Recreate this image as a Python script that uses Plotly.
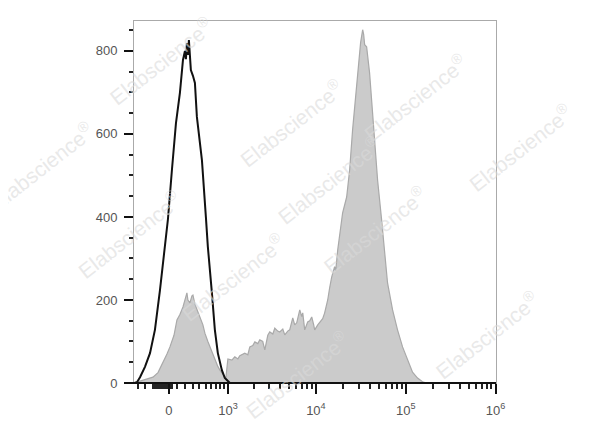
import numpy as np
import plotly.graph_objects as go

# ---- data (x in biexponential display units, y in cell counts) ----
unstained_x = [-0.389, -0.356, -0.322, -0.267, -0.211, -0.156, -0.100, -0.056, -0.011, 0.033,
               0.078, 0.122, 0.156, 0.178, 0.189, 0.200, 0.211, 0.222, 0.233, 0.244,
               0.267, 0.289, 0.311, 0.333, 0.367, 0.411, 0.433, 0.478, 0.511, 0.544,
               0.589, 0.622, 0.678, 3.633]
unstained_count = [0, 2, 14, 39, 72, 128, 224, 313, 395, 513,
                   626, 699, 778, 800, 780, 819, 790, 826, 780, 754,
                   740, 723, 641, 600, 537, 400, 328, 217, 128, 72,
                   31, 12, 0, 0]

stained_x = [-0.389, -0.289, -0.178, -0.122, -0.067, -0.022, 0.011, 0.056, 0.089, 0.122,
             0.156, 0.178, 0.200, 0.211, 0.233, 0.256, 0.267, 0.289, 0.311, 0.344,
             0.378, 0.400, 0.433, 0.456, 0.489, 0.511, 0.544, 0.567, 0.600, 0.622,
             0.633, 0.656, 0.700, 0.733, 0.767, 0.789, 0.844, 0.878, 0.900, 0.933,
             0.956, 0.989, 1.011, 1.044, 1.067, 1.100, 1.122, 1.156, 1.178, 1.211,
             1.233, 1.267, 1.289, 1.322, 1.344, 1.378, 1.400, 1.422, 1.444, 1.456,
             1.478, 1.489, 1.511, 1.533, 1.544, 1.567, 1.589, 1.611, 1.622, 1.656,
             1.678, 1.711, 1.733, 1.767, 1.789, 1.811, 1.844, 1.856, 1.878, 1.900,
             1.933, 1.978, 2.011, 2.044, 2.089, 2.122, 2.133, 2.156, 2.167, 2.178,
             2.200, 2.233, 2.256, 2.289, 2.322, 2.367, 2.400, 2.433, 2.489, 2.544,
             2.600, 2.656, 2.711, 2.767, 2.822, 2.867, 3.633]
stained_count = [0, 7, 14, 25, 48, 70, 87, 115, 152, 165,
                 183, 200, 217, 200, 193, 210, 212, 190, 176, 159,
                 140, 120, 100, 87, 70, 55, 40, 31, 20, 14,
                 12, 58, 55, 63, 58, 66, 72, 68, 87, 90,
                 99, 95, 104, 100, 80, 115, 123, 118, 132, 125,
                 123, 130, 116, 125, 128, 157, 140, 145, 165, 176,
                 160, 169, 128, 140, 147, 150, 159, 140, 128, 140,
                 147, 155, 169, 200, 230, 255, 280, 270, 320, 352,
                 410, 448, 513, 610, 713, 802, 820, 851, 840, 815,
                 810, 747, 675, 569, 489, 393, 313, 241, 176, 128,
                 87, 55, 26, 12, 3, 0, 0]

major_tick_values = [0, 1e3, 1e4, 1e5, 1e6]
major_tick_labels = ["0", "10<sup>3</sup>", "10<sup>4</sup>", "10<sup>5</sup>", "10<sup>6</sup>"]
y_tick_values = [0, 200, 400, 600, 800]

BIEX_WIDTH = 463.0


def biex(v):
    return np.arcsinh(np.asarray(v, dtype=float) / BIEX_WIDTH) / np.log(10)


minor_values = [-400, -300] + list(range(-200, 60, 20)) + list(range(100, 1000, 100))
for dec in [1e3, 1e4, 1e5]:
    minor_values += [k * dec for k in range(2, 10)]

fig = go.Figure()
fig.add_trace(go.Scatter(x=stained_x, y=stained_count, mode="lines",
                         line=dict(color="#a9a9a9", width=1.2),
                         fill="tozeroy", fillcolor="#cbcbcb", hoverinfo="skip"))
fig.add_trace(go.Scatter(x=unstained_x, y=unstained_count, mode="lines",
                         line=dict(color="#111111", width=2), hoverinfo="skip"))

font = dict(family="Liberation Sans, Arial, sans-serif", size=13, color="#555555")

fig.update_layout(
    width=600, height=427,
    margin=dict(l=126, r=112, t=13, b=52),
    paper_bgcolor="white", plot_bgcolor="white",
    showlegend=False,
    font=font,
    xaxis=dict(range=[-0.389, 3.64], showgrid=False, zeroline=False,
               showline=True, linecolor="#aaaaaa", linewidth=1, mirror=True,
               tickmode="array", tickvals=biex(major_tick_values).tolist(),
               ticktext=major_tick_labels, ticks="outside", ticklen=10,
               tickwidth=2, tickcolor="#111111", tickfont=font,
               ticklabelstandoff=5,
               minor=dict(tickmode="array", tickvals=biex(minor_values).tolist(),
                          ticks="outside", ticklen=5, tickwidth=1.5,
                          tickcolor="#222222", showgrid=False)),
    yaxis=dict(range=[0, 872], showgrid=False, zeroline=False,
               showline=True, linecolor="#aaaaaa", linewidth=1, mirror=True,
               tickmode="array", tickvals=y_tick_values,
               ticks="outside", ticklen=9, tickwidth=2, tickcolor="#111111",
               tickfont=font, ticklabelstandoff=4,
               minor=dict(dtick=50, ticks="outside", ticklen=4, tickwidth=1.5,
                          tickcolor="#222222", showgrid=False)),
)

# black baseline of the x axis, extending slightly left of the y axis
fig.add_shape(type="line", xref="paper", yref="paper", x0=-0.025, x1=1, y0=0, y1=0,
              line=dict(color="#111111", width=2))

# watermark
wm_positions = [(-0.09, 1.03), (0.27, 0.86), (0.94, 0.93), (-0.42, 0.74), (1.23, 0.65),
                (0.54, 0.56), (-0.18, 0.41), (0.11, 0.15), (0.83, 0.28), (0.45, -0.12),
                (1.14, -0.01)]
for (px, py) in wm_positions:
    fig.add_annotation(xref="paper", yref="paper", x=px, y=py, showarrow=False,
                       text="Elabscience<sup>®</sup>", textangle=-38,
                       font=dict(family="Liberation Sans, Arial, sans-serif", size=21,
                                 color="rgba(218,218,218,0.6)"))

fig.write_html("out.html")
